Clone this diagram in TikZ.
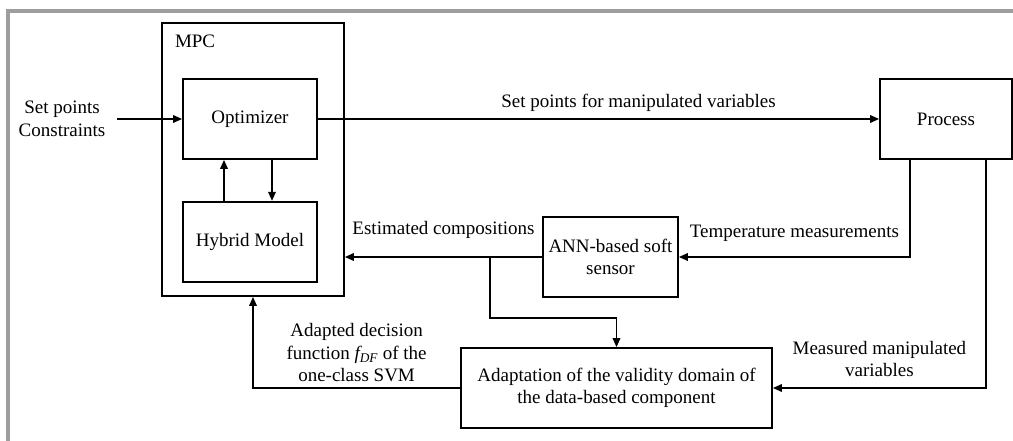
\documentclass[tikz,border=0pt]{standalone}
\usepackage{fontspec}
\setmainfont{Liberation Serif}
\usetikzlibrary{
  arrows.meta,
  positioning,  % Function "of" (e.g. [below=of x])
}
\tikzset{
  font=\fontsize{19}{22.5}\selectfont,
  >={Triangle[length=9pt,width=7.5pt]},
  my block/.style={
    draw,
    rectangle,
    align=center,
    inner sep=0pt,
    minimum width=134pt,
    minimum height=80pt
  },
  my label/.style={
    align=center,
    inner sep=0pt
  },
  my frame/.style={
    draw=black!38,
    line width=3.5pt
  }
}

\begin{document}
\begin{tikzpicture}[x=1pt,y=-1pt,line width=1.7pt]
\useasboundingbox (0,0) rectangle (1013,441);
\draw[my frame] (8,441) -- (8,11) -- (1013,11);
\node[my block,minimum width=182pt,minimum height=273pt] (mpc) at (253,159.5) {};
\node[my label,anchor=north west] (mpctext) at ([shift={(13pt,-12pt)}]mpc.north west) {MPC};
\node[my block]                      (opt)   at (250,119)   {Optimizer};
\node[my block,below=41pt of opt]    (hyb)                  {Hybrid Model};
\node[my block,minimum width=132pt]  (proc)  at (946,119)   {Process};
\node[my block,minimum width=135pt]  (ann)   at (610.5,257) {ANN-based soft\\sensor};
\node[my block,minimum width=311pt]  (adapt) at (616.5,388) {Adaptation of the validity domain of\\the data-based component};
\node[my label]                      (sp)    at (62,119)    {Set points\\Constraints};
\coordinate (in)    at (117,119);
\coordinate (split) at (490,257);
\draw[->] (in) -- (opt);
\draw[->] (opt) -- node[my label,above=7pt,xshift=40pt] {Set points for manipulated variables} (proc);
\draw[->] ([xshift=-26pt]hyb.north) -- ([xshift=-26pt]opt.south);
\draw[->] ([xshift=22pt]opt.south)  -- ([xshift=22pt]hyb.north);
\draw[->] ([xshift=-36pt]proc.south) |- node[my label,pos=0.75,above=15pt] {Temperature measurements} (ann.east);
\draw[->] ([xshift=40pt]proc.south)  |- node[my label,pos=0.75,above=10pt] {Measured manipulated\\variables} (adapt.east);
\draw[->] (ann) -- node[my label,above=18pt] {Estimated compositions} (ann -| mpc.east);
\draw[->] (split) -- ++(0,61) -| (adapt.north);
\draw[->] (adapt.west) -| node[my label,pos=0.25,above=5pt] {Adapted decision\\function \textit{f\textsubscript{DF}} of the\\one-class SVM} (mpc.south);
\end{tikzpicture}
\end{document}
